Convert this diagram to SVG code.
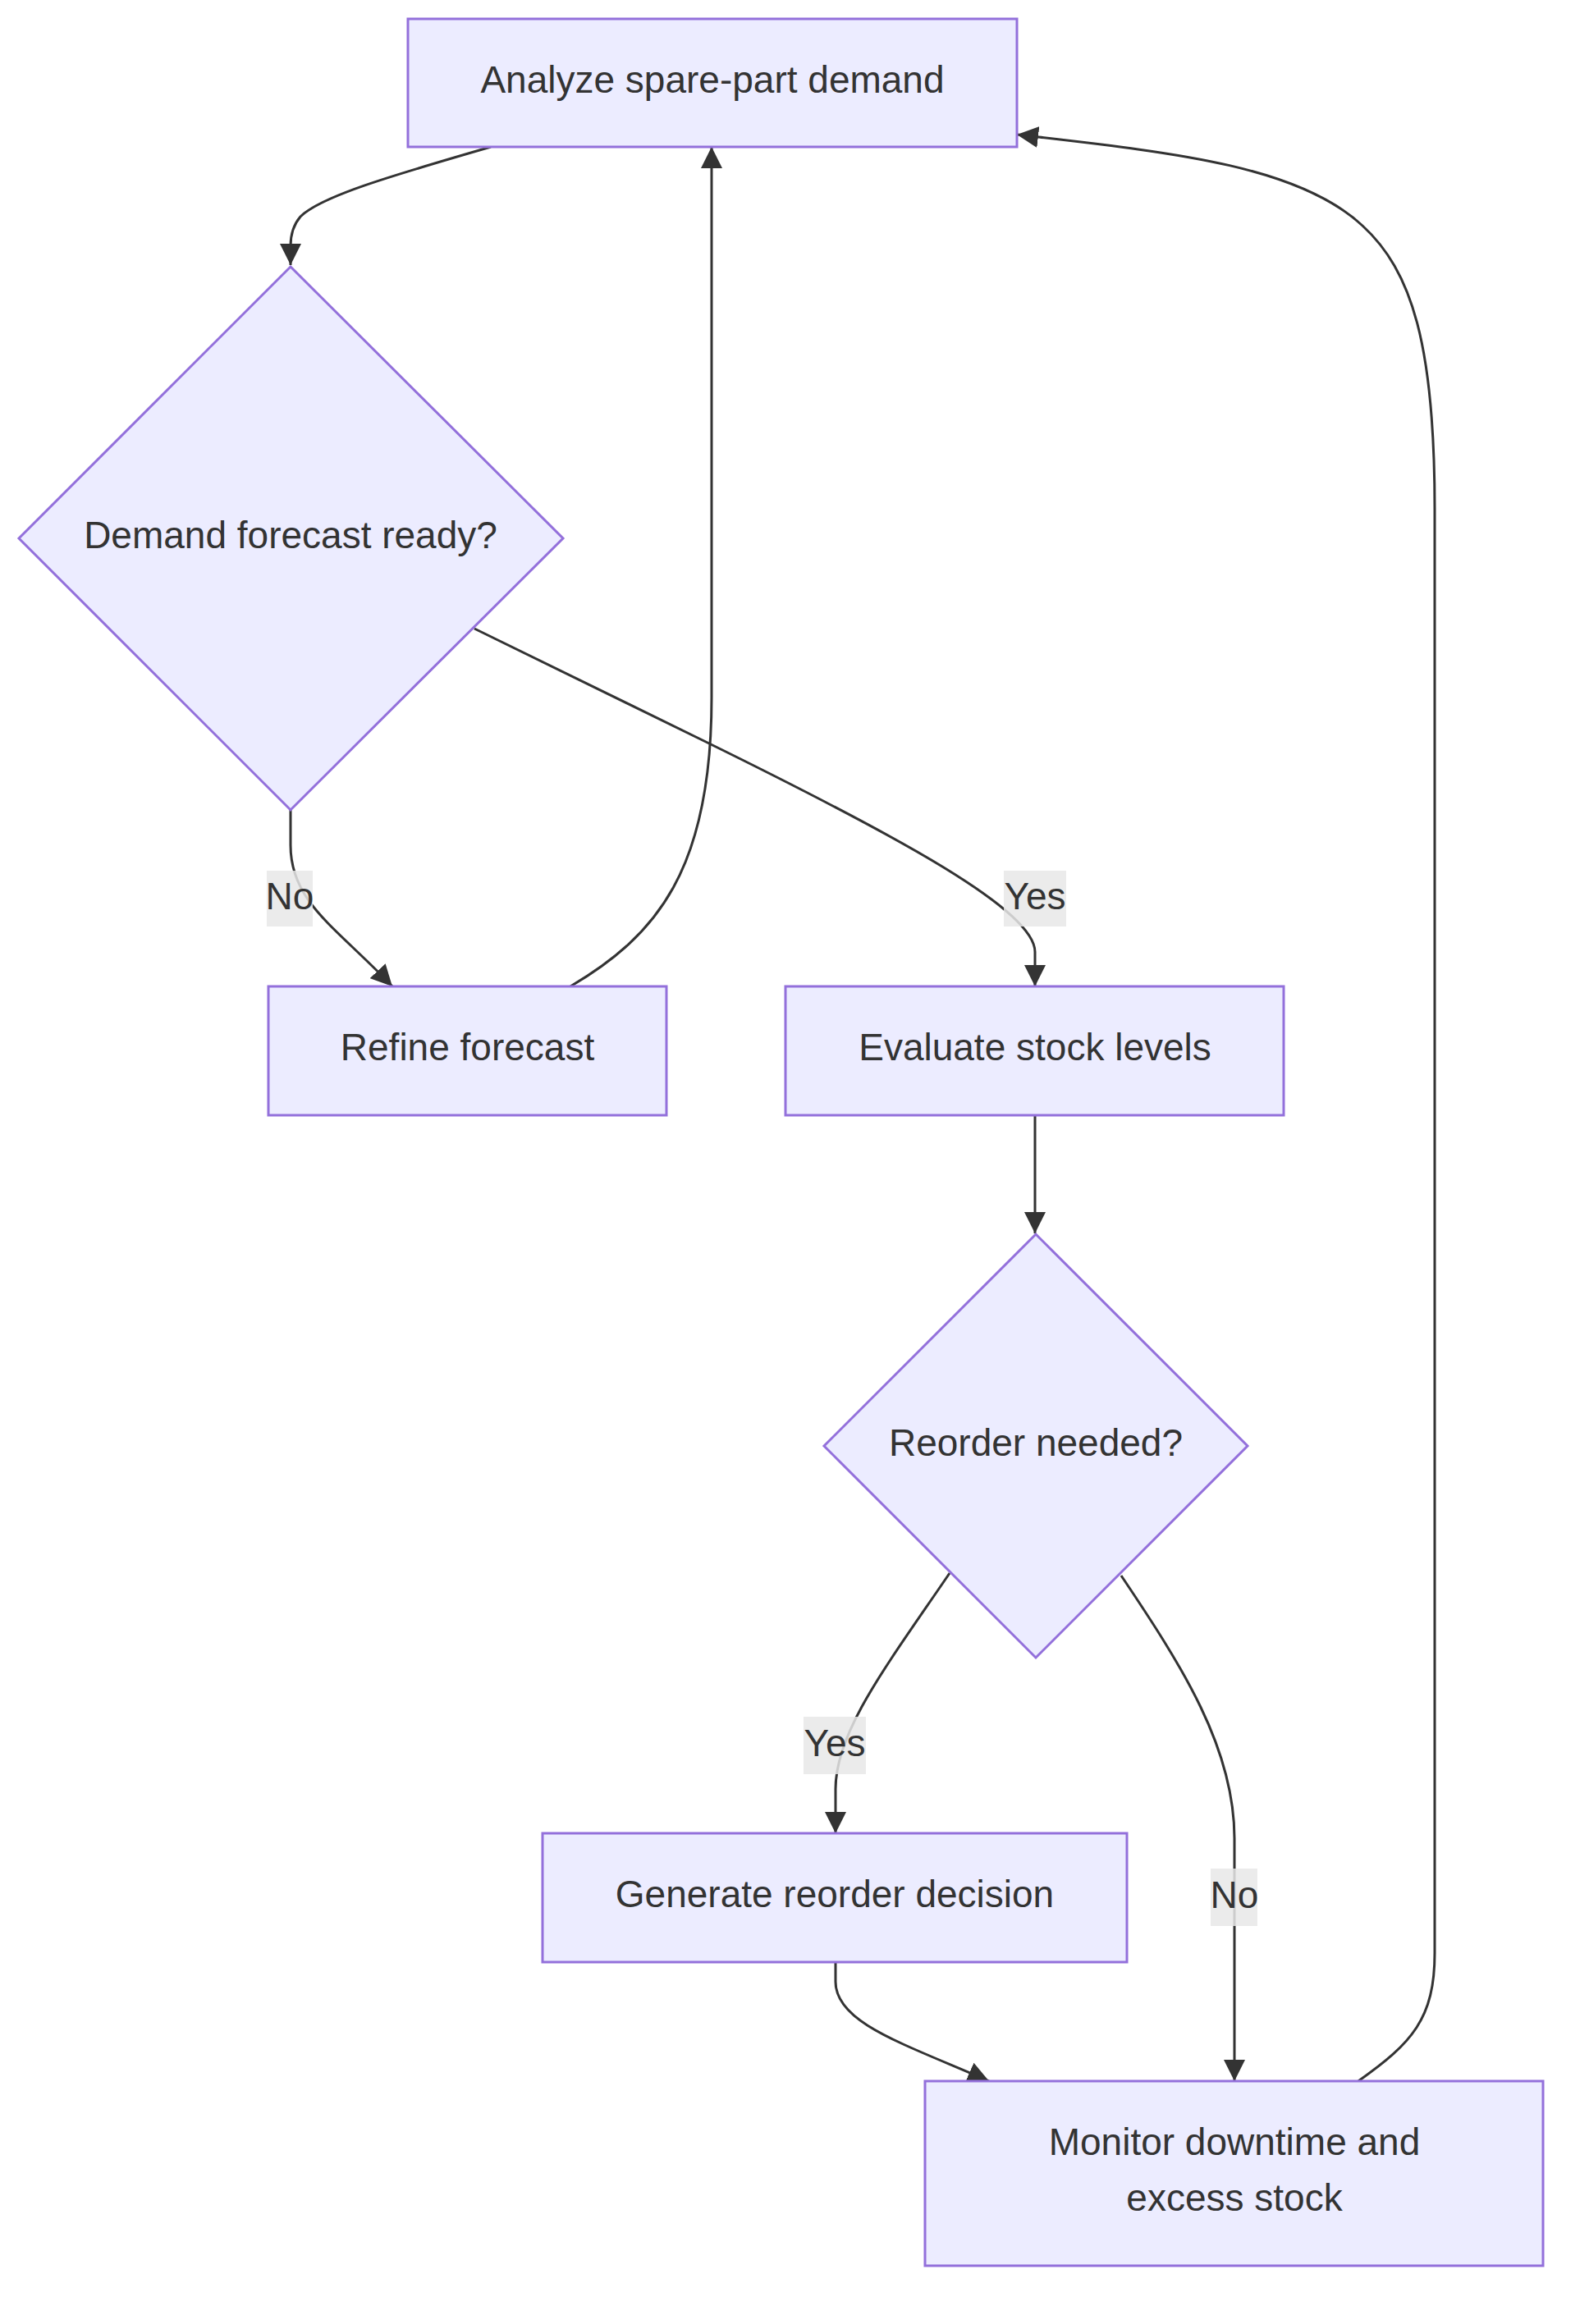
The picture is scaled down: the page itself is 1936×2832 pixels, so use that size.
<svg xmlns="http://www.w3.org/2000/svg" width="1936" height="2832" viewBox="0 0 1936 2832">
<style>
.node{fill:#ECECFF;stroke:#9370DB;stroke-width:3}
.edge{fill:none;stroke:#333333;stroke-width:3}
.t{font-family:"Liberation Sans",Arial,sans-serif;font-size:46px;fill:#333333;text-anchor:middle;dominant-baseline:central}
.lbl{fill:#e8e8e8;opacity:0.85}
</style>
<defs>
<marker id="arrow" markerUnits="userSpaceOnUse" markerWidth="26" markerHeight="26" viewBox="0 0 24 24" refX="24" refY="12" orient="auto">
<path d="M0,0 L24,12 L0,24 z" fill="#333333"/>
</marker>
</defs>
<rect width="1936" height="2832" fill="#ffffff"/>
<g id="edges">
<path class="edge" marker-end="url(#arrow)" d="M 598 179 C 470 216, 390 240, 366 264 Q 354 278 354 300 L 354 323"/>
<path class="edge" marker-end="url(#arrow)" d="M 354 987 L 354 1030 C 354 1100, 410 1130, 478 1202"/>
<path class="edge" marker-end="url(#arrow)" d="M 695 1202 C 800 1140, 867 1060, 867 850 L 867 179"/>
<path class="edge" marker-end="url(#arrow)" d="M 578 766 L 860 904 C 1100 1022, 1261 1110, 1261 1160 L 1261 1202"/>
<path class="edge" marker-end="url(#arrow)" d="M 1261 1359 L 1261 1503"/>
<path class="edge" marker-end="url(#arrow)" d="M 1157 1917 C 1080 2030, 1018 2110, 1018 2180 L 1018 2234"/>
<path class="edge" marker-end="url(#arrow)" d="M 1366 1920 C 1440 2030, 1504 2130, 1504 2240 L 1504 2536"/>
<path class="edge" marker-end="url(#arrow)" d="M 1018 2391 L 1018 2415 C 1018 2465, 1100 2490, 1205 2536"/>
<path class="edge" marker-end="url(#arrow)" d="M 1655 2536 C 1720 2490, 1748 2460, 1748 2380 L 1748 620 C 1748 420, 1720 330, 1660 275 C 1580 200, 1420 185, 1239 164"/>
</g>
<g id="edge-labels">
<g id="label-no1"><rect class="lbl" x="325" y="1061" width="56" height="68"/><text class="t" x="353" y="1092">No</text></g>
<g id="label-yes1"><rect class="lbl" x="1223" y="1061" width="76" height="68"/><text class="t" x="1261" y="1092">Yes</text></g>
<g id="label-yes2"><rect class="lbl" x="979" y="2092" width="76" height="70"/><text class="t" x="1017" y="2124">Yes</text></g>
<g id="label-no2"><rect class="lbl" x="1475" y="2277" width="57" height="70"/><text class="t" x="1504" y="2309">No</text></g>
</g>
<g id="node-analyze">
<rect class="node" x="497" y="23" width="742" height="156"/>
<text class="t" x="868" y="97">Analyze spare-part demand</text>
</g>
<g id="node-forecast-ready">
<polygon class="node" points="354,325 686,656 354,987 23,656"/>
<text class="t" x="354" y="652">Demand forecast ready?</text>
</g>
<g id="node-refine">
<rect class="node" x="327" y="1202" width="485" height="157"/>
<text class="t" x="569.5" y="1276">Refine forecast</text>
</g>
<g id="node-evaluate">
<rect class="node" x="957" y="1202" width="607" height="157"/>
<text class="t" x="1261" y="1276">Evaluate stock levels</text>
</g>
<g id="node-reorder-needed">
<polygon class="node" points="1262,1504 1520,1762 1262,2020 1004,1762"/>
<text class="t" x="1262" y="1758">Reorder needed?</text>
</g>
<g id="node-generate">
<rect class="node" x="661" y="2234" width="712" height="157"/>
<text class="t" x="1017" y="2308">Generate reorder decision</text>
</g>
<g id="node-monitor">
<rect class="node" x="1127" y="2536" width="753" height="225"/>
<text class="t" x="1504" y="2610">Monitor downtime and</text>
<text class="t" x="1504" y="2678">excess stock</text>
</g>
</svg>
